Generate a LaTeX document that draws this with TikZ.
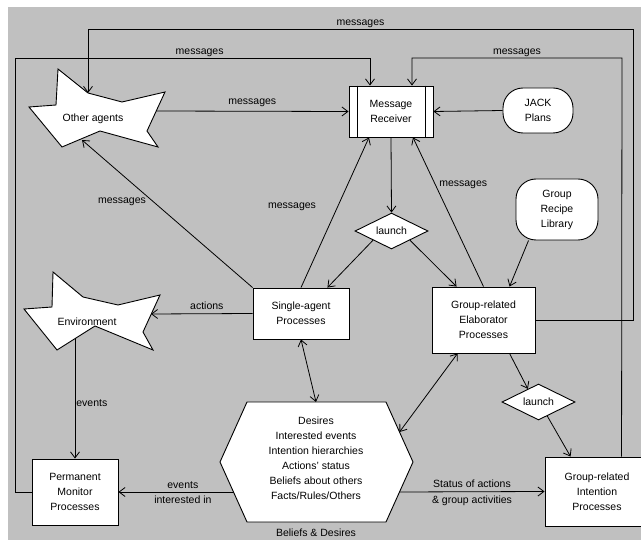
\documentclass[tikz,border=0pt]{standalone}
\usepackage{fontspec}
\setmainfont{Liberation Sans}
\usetikzlibrary{shapes.geometric,arrows.meta,positioning}
\definecolor{bggray}{HTML}{C0C0C0}

\begin{document}
\begin{tikzpicture}[x=1pt,y=-1pt,
	font=\fontsize{10.5}{15}\selectfont,
	box/.style={draw,fill=white,line width=.9pt,align=center,inner sep=0pt},
	rbox/.style={box,rounded corners=20pt},
	dia/.style={box,diamond,aspect=2,minimum width=73pt,minimum height=36pt},
	conn/.style={-{Straight Barb[length=6pt,width=9pt]},line width=.8pt},
	twoway/.style={{Straight Barb[length=6pt,width=9pt]}-{Straight Barb[length=6pt,width=9pt]},line width=.8pt},
	lab/.style={inner sep=3.5pt,text depth=0pt}]
	\useasboundingbox (0,0) rectangle (641,540);
	\fill[bggray] (8,7) rectangle (650,545);

	\node[box,minimum width=84pt,minimum height=51pt] (mr) at (391,111.5) {Message\\Receiver};
	\foreach \s/\c in {9/west,-8/east}{
		\draw[line width=.9pt] ([xshift=\s pt]mr.north \c) -- ([xshift=\s pt]mr.south \c);
	}
	\node[rbox,minimum width=70pt,minimum height=45pt] (jack) at (538,110.5) {JACK\\Plans};
	\node[rbox,minimum width=82pt,minimum height=61pt] (grl) at (557,209.5) {Group\\Recipe\\Library};
	\node[dia] (la1) at (391.5,231) {launch};
	\node[box,minimum width=96pt,minimum height=51pt] (sap) at (301,313.5) {Single-agent\\Processes};
	\node[box,minimum width=103pt,minimum height=66pt] (gep) at (483.5,320) {Group-related\\Elaborator\\Processes};
	\node[dia] (la2) at (538.5,402) {launch};
	\node[box,minimum width=86pt,minimum height=66pt] (pmp) at (75,492) {Permanent\\Monitor\\Processes};
	\node[box,minimum width=104pt,minimum height=69pt] (gip) at (597,491.5) {Group-related\\Intention\\Processes};

	\draw[fill=white,line width=.9pt] (58,69) -- (56,105) -- (29,107) -- (62,147) -- (100,131) -- (158,147)
		-- (147,131) -- (165,92) -- (122,102) -- (88,93) -- cycle;
	\node (oa) at (93,119) {Other agents};
	\coordinate (oaN) at (88,93);
	\coordinate (oaE) at (156,111);
	\coordinate (oaS) at (82,140);

	\draw[fill=white,line width=.9pt] (53,272) -- (52,307) -- (24,309) -- (57,350) -- (95,326) -- (153,350)
		-- (143,332) -- (160,295) -- (118,305) -- (83,297) -- cycle;
	\node (env) at (87,322) {Environment};
	\coordinate (envE) at (151,314);
	\coordinate (envS) at (75,338.5);

	\draw[fill=white,line width=.9pt] (247,402) -- (386,402) -- (413,462) -- (386,522) -- (247,522) -- (220,462) -- cycle;
	\node[align=center] (bel) at (316,458.5) {Desires\\Interested events\\Intention hierarchies\\Actions' status\\Beliefs about others\\Facts/Rules/Others};
	\node (bellab) at (316,533) {Beliefs \& Desires};
	\coordinate (belN) at (316,402);
	\coordinate (belNE) at (399.5,432);
	\coordinate (belW) at (233.5,492);
	\coordinate (belE) at (399.5,492);

	\draw[conn] (oaE) -- node[above,lab,yshift=2.5pt] {messages} (mr.west);
	\draw[conn] (jack.west) -- (mr.east);
	\draw[conn] (gep.east) -| (633,29) -| node[above,lab,pos=.25] {messages} (oaN);
	\draw[conn] (pmp.west) -| (15,58) -| node[above,lab,pos=.26] {messages} ([xshift=-21pt]mr.north);
	\draw[conn] ([xshift=77pt]gip.north west) -- (622,58) -| node[above,lab,pos=.25] {messages} ([xshift=21pt]mr.north);
	\draw[conn] (mr.south) -- (la1.north);
	\draw[conn] (la1.south west) -- ([xshift=-22pt]sap.north east);
	\draw[conn] (la1.south east) -- ([xshift=25pt]gep.north west);
	\draw[conn] (gep.north) -- node[pos=.68,right] {messages} ([xshift=22pt]mr.south);
	\draw[conn] (sap.north) -- node[pos=.54,left=18pt] {messages} ([xshift=-22pt]mr.south);
	\draw[conn] (sap.north west) -- node[pos=.58,left=4pt] {messages} (oaS);
	\draw[conn] (sap.west) -- node[above,lab,pos=.45] {actions} (envE);
	\draw[conn] ([xshift=13pt]grl.south west) -- ([xshift=78pt]gep.north west);
	\draw[twoway] (sap.south) -- (belN);
	\draw[twoway] ([xshift=26pt]gep.south west) -- (belNE);
	\draw[conn] (belW) -- node[above,lab,pos=.44] {events} node[below,lab,pos=.44] {interested in} (pmp.east);
	\draw[conn] (belE) -- node[above,lab] {Status of actions} node[below,lab] {\& group activities} (gip.west);
	\draw[conn] (envS) -- node[right,pos=.54,inner sep=1pt] {events} (pmp.north);
	\draw[conn] ([xshift=78pt]gep.south west) -- (la2.129);
	\draw[conn] (la2.-58) -- ([xshift=26pt]gip.north west);
\end{tikzpicture}
\end{document}
